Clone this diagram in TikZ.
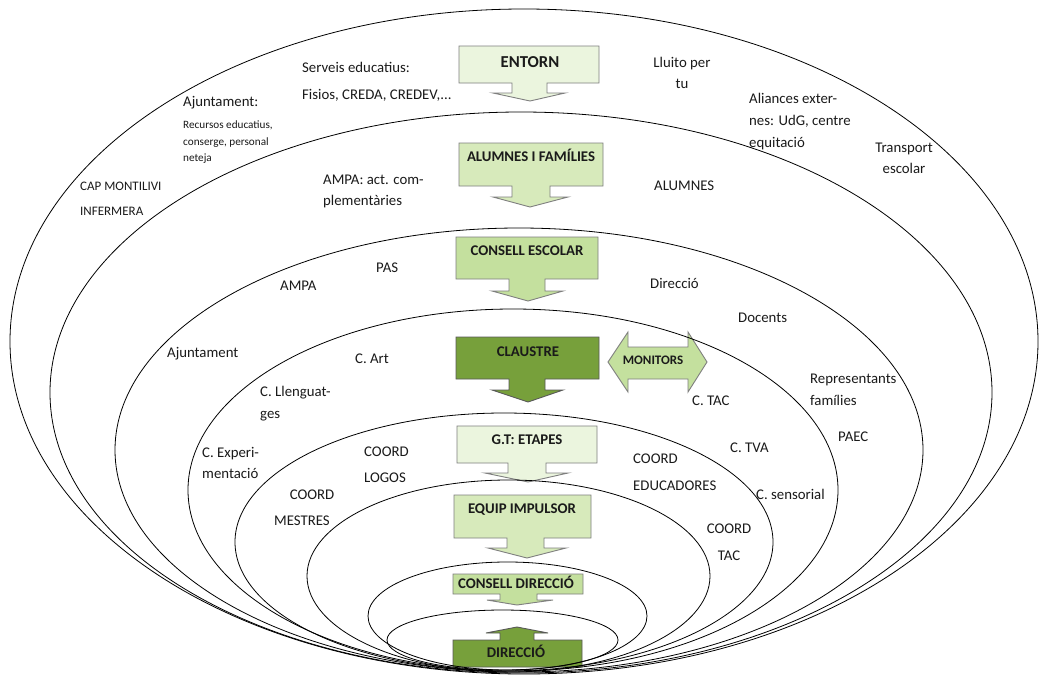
\documentclass[tikz,border=0pt]{standalone}
\usepackage{fontspec}
\setmainfont{Carlito}
\definecolor{gA}{HTML}{EBF5DE}
\definecolor{gB}{HTML}{D7EABB}
\definecolor{gC}{HTML}{C4E09E}
\definecolor{gD}{HTML}{77A03B}
\definecolor{bd}{HTML}{7F7F7F}
\definecolor{tx}{HTML}{1A1A1A}
\begin{document}
\begin{tikzpicture}[x=1pt,y=-1pt,
  ring/.style={draw=black, line width=0.8pt},
  shp/.style={draw=bd, line width=0.9pt, line join=miter},
  lbl/.style={font=\fontsize{14.8}{16}\selectfont, inner sep=0pt, text=tx},
  sml/.style={font=\fontsize{11.2}{13}\selectfont, inner sep=0pt, text=tx},
  capsz/.style={font=\fontsize{13}{15}\selectfont, inner sep=0pt, text=tx},
  boxt/.style={font=\bfseries\fontsize{14.8}{16}\selectfont, inner sep=0pt, text=tx, anchor=base},
]
\useasboundingbox (0,0) rectangle (1039,675);
\fill[white] (0,0) rectangle (1039,675);
\clip (0,0) rectangle (1039,675);

% ---- shapes (callouts) ----
% ENTORN
\draw[shp, fill=gA] (459,46) -- (599,46) -- (599,83) -- (547,83) -- (547,93) -- (565,93) -- (530,101) -- (493,93) -- (512,93) -- (512,83) -- (459,83) -- cycle;
% ALUMNES I FAMILIES
\draw[shp, fill=gB] (459,143) -- (603,143) -- (603,186) -- (550,186) -- (550,197) -- (568,197) -- (530,207) -- (493,197) -- (512,197) -- (512,186) -- (459,186) -- cycle;
% CONSELL ESCOLAR
\draw[shp, fill=gC] (456,237) -- (598,237) -- (598,279) -- (545,279) -- (545,291) -- (563,291) -- (528,301) -- (492,291) -- (509,291) -- (509,279) -- (456,279) -- cycle;
% CLAUSTRE
\draw[shp, fill=gD, draw=black!65] (456,337) -- (599,337) -- (599,379) -- (545,379) -- (545,390) -- (563,390) -- (528,402) -- (492,390) -- (509,390) -- (509,379) -- (456,379) -- cycle;
% MONITORS
\draw[shp, fill=gC] (608,362) -- (628,332) -- (628,347) -- (688,347) -- (688,332) -- (707,362) -- (688,392) -- (688,379) -- (628,379) -- (628,392) -- cycle;
% G.T: ETAPES
\draw[shp, fill=gA] (457,426) -- (597,426) -- (597,463) -- (546,463) -- (546,473) -- (568,473) -- (528,482) -- (485,473) -- (508,473) -- (508,463) -- (457,463) -- cycle;
% EQUIP IMPULSOR
\draw[shp, fill=gB] (454,495) -- (591,495) -- (591,538) -- (544,538) -- (544,548) -- (566,548) -- (527,558) -- (488,548) -- (507,548) -- (507,538) -- (454,538) -- cycle;
% CONSELL DIRECCIO
\draw[shp, fill=gC] (453,574) -- (583,574) -- (583,594) -- (537,594) -- (537,600) -- (553,600) -- (517,605) -- (487,600) -- (500,600) -- (500,594) -- (453,594) -- cycle;
% DIRECCIO (up)
\draw[shp, fill=gD, draw=black!65] (453,640) -- (500,640) -- (500,633) -- (486,633) -- (517,627) -- (548,633) -- (534,633) -- (534,640) -- (582,640) -- (582,667) -- (453,667) -- cycle;

% ---- nested rings ----
\draw[ring] (524,341.5) ellipse [x radius=514pt, y radius=332.5pt];
\draw[ring] (521,392.5) ellipse [x radius=471pt, y radius=280.5pt];
\draw[ring] (519,450) ellipse [x radius=404pt, y radius=222pt];
\draw[ring] (513,490) ellipse [x radius=325pt, y radius=181pt];
\draw[ring] (504,542) ellipse [x radius=269pt, y radius=129pt];
\draw[ring] (508.5,576) ellipse [x radius=201.5pt, y radius=96pt];
\draw[ring] (507.5,616) ellipse [x radius=139.5pt, y radius=54pt];
\draw[ring] (502.5,640) ellipse [x radius=115.5pt, y radius=30pt];

% ---- box texts ----
\node[boxt, font=\bfseries\fontsize{16.7}{18}\selectfont] (entorn) at (530,67.4) {ENTORN};
\node[boxt] (alumfam) at (531,161.8) {ALUMNES I FAMÍLIES};
\node[boxt] (cescolar) at (527,255.8) {CONSELL ESCOLAR};
\node[boxt] (claustre) at (528,356.8) {CLAUSTRE};
\node[boxt, font=\bfseries\fontsize{13}{15}\selectfont] (monitors) at (653,364.2) {MONITORS};
\node[boxt] (gtetapes) at (527,444.8) {G.T: ETAPES};
\node[boxt] (equip) at (522,513.8) {EQUIP IMPULSOR};
\node[boxt] (cdir) at (516,588.8) {CONSELL DIRECCIÓ};
\node[boxt] (direccio) at (516,657.8) {DIRECCIÓ};

% ---- labels ----
\node[lbl, anchor=base west] (serv1) at (302,72) {Serveis educatius:};
\node[lbl, anchor=base west] (serv2) at (302,99) {Fisios, CREDA, CREDEV,...};
\node[lbl, anchor=base west] (ajt1) at (183,106) {Ajuntament:};
\node[sml, anchor=base west] (ajt2) at (183,128) {Recursos educatius,};
\node[sml, anchor=base west] (ajt3) at (183,145) {conserge, personal};
\node[sml, anchor=base west] (ajt4) at (183,161) {neteja};
\node[lbl, anchor=base west] (ampa1) at (323,184) {AMPA: act. com-};
\node[lbl, anchor=base west] (ampa2) at (323,205) {plementàries};
\node[lbl, anchor=base] (llu1) at (682,67) {Lluito per};
\node[lbl, anchor=base] (llu2) at (682,88) {tu};
\node[lbl, anchor=base west] (ali1) at (749,103) {Aliances exter-};
\node[lbl, anchor=base west] (ali2) at (749,125) {nes: UdG, centre};
\node[lbl, anchor=base west] (ali3) at (749,147) {equitació};
\node[lbl, anchor=base west] (alumnes) at (654,190) {ALUMNES};
\node[lbl, anchor=base] (tra1) at (904,152) {Transport};
\node[lbl, anchor=base] (tra2) at (904,173) {escolar};
\node[capsz, anchor=base west] (capm) at (80,190) {CAP MONTILIVI};
\node[capsz, anchor=base west] (inf) at (80,215) {INFERMERA};
\node[lbl, anchor=base west] (ampa) at (280,290) {AMPA};
\node[lbl, anchor=base west] (pas) at (376,272) {PAS};
\node[lbl, anchor=base west] (ajt) at (167,357) {Ajuntament};
\node[lbl, anchor=base west] (llen1) at (260,396) {C. Llenguat-};
\node[lbl, anchor=base west] (llen2) at (260,418) {ges};
\node[lbl, anchor=base west] (dirl) at (650,288) {Direcció};
\node[lbl, anchor=base west] (doc) at (738,322) {Docents};
\node[lbl, anchor=base west] (cart) at (355,363) {C. Art};
\node[lbl, anchor=base west] (ctac) at (692,405) {C. TAC};
\node[lbl, anchor=base west] (rep1) at (810,383) {Representants};
\node[lbl, anchor=base west] (rep2) at (810,405) {famílies};
\node[lbl, anchor=base west] (paec) at (838,441) {PAEC};
\node[lbl, anchor=base west] (ctva) at (730,452) {C. TVA};
\node[lbl, anchor=base west] (ced1) at (633,463) {COORD};
\node[lbl, anchor=base west] (ced2) at (633,490) {EDUCADORES};
\node[lbl, anchor=base west] (csen) at (756,499) {C. sensorial};
\node[lbl, anchor=base] (ctac1) at (729,533) {COORD};
\node[lbl, anchor=base] (ctac2) at (729,560) {TAC};
\node[lbl, anchor=base west] (cexp1) at (202,457) {C. Experi-};
\node[lbl, anchor=base west] (cexp2) at (202,478) {mentació};
\node[lbl, anchor=base west] (clog1) at (364,456) {COORD};
\node[lbl, anchor=base west] (clog2) at (364,482) {LOGOS};
\node[lbl, anchor=base] (cmes1) at (312,499) {COORD};
\node[lbl, anchor=base] (cmes2) at (302,525) {MESTRES};
\end{tikzpicture}
\end{document}
